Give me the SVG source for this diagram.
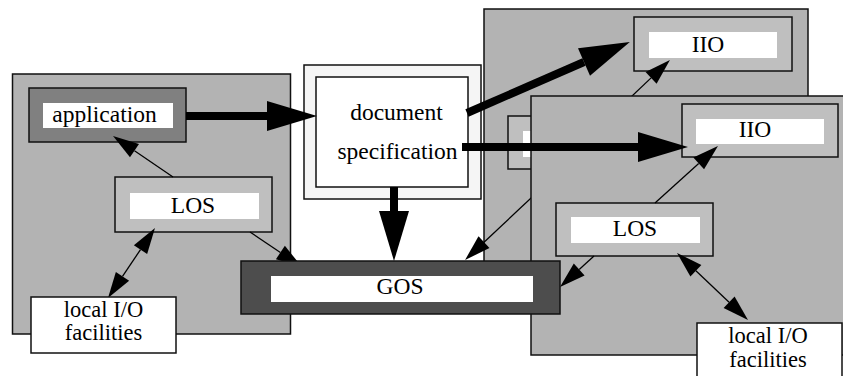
<svg xmlns="http://www.w3.org/2000/svg" width="843" height="376" viewBox="0 0 843 376">
<defs>
<style>
.panel{fill:#b3b3b3;stroke:#111;stroke-width:1.5}
.box{fill:#bfbfbf;stroke:#111;stroke-width:1.5}
.app{fill:#808080;stroke:#111;stroke-width:1.5}
.gos{fill:#4d4d4d;stroke:#111;stroke-width:1.5}
.plain{fill:#fff;stroke:#111;stroke-width:1.5}
.docout{fill:#f5f5f5;stroke:#111;stroke-width:1.5}
.lbl{fill:#fff;stroke:none}
.thin{stroke:#000;stroke-width:1.3;fill:none;marker-end:url(#ah)}
.both{stroke:#000;stroke-width:1.3;fill:none;marker-start:url(#ah);marker-end:url(#ah)}
.thick{stroke:#000;stroke-width:8;fill:none;marker-end:url(#big)}
</style>
<marker id="ah" markerUnits="userSpaceOnUse" markerWidth="26" markerHeight="16" refX="0" refY="8" orient="auto-start-reverse" overflow="visible">
<path d="M0,0 L26,8 L0,16 z" fill="#000"/>
</marker>
<marker id="big" markerUnits="userSpaceOnUse" markerWidth="50" markerHeight="30" refX="0" refY="15" orient="auto" overflow="visible">
<path d="M0,0 L50,15 L0,30 z" fill="#000"/>
</marker>
</defs>

<g font-family="Times New Roman, Liberation Serif, Tinos, Noto Serif, DejaVu Serif, serif" font-size="23.5" text-anchor="middle" fill="#000">
<g id="left-panel">
<rect class="panel" x="12.5" y="74" width="278" height="260"/>
</g>
<g id="application">
<rect class="app" x="29" y="88" width="157" height="54"/>
<rect class="lbl" x="43" y="103" width="130" height="25"/>
<text x="104.5" y="122">application</text>
</g>
<g id="los-left">
<rect class="box" x="115" y="177" width="157" height="55"/>
<rect class="lbl" x="130" y="193" width="129" height="26"/>
<text x="193" y="212.5">LOS</text>
</g>
<g id="connectors-left">
<line class="thin" x1="173" y1="177" x2="134.5" y2="150.7"/>
<line class="both" x1="140.5" y1="249.6" x2="122.5" y2="276.4"/>
<line class="thin" x1="250" y1="232" x2="280.4" y2="252.5"/>
</g>
<g id="local-io-left">
<rect class="plain" x="31" y="297" width="145" height="56"/>
<text x="103.5" y="316.5" font-size="22.5">local I/O</text>
<text x="103.5" y="340" font-size="22.5">facilities</text>
</g>

<g id="middle-panel">
<rect class="panel" x="484" y="9" width="324" height="291"/>
</g>
<g id="iio-middle">
<rect class="box" x="634" y="17" width="158" height="54"/>
<rect class="lbl" x="649" y="32" width="128" height="26"/>
<text x="708" y="51.5">IIO</text>
</g>
<g id="los-middle">
<rect class="box" x="508" y="116" width="157" height="53"/>
<rect class="lbl" x="523" y="131" width="127" height="26"/>
</g>
<g id="connectors-middle">
<line class="thin" x1="611" y1="116" x2="651.1" y2="77.9"/>
<line class="thin" x1="562" y1="169" x2="484" y2="242.2"/>
</g>

<g id="front-panel">
<rect class="panel" x="531" y="96" width="320" height="259"/>
</g>
<g id="iio-front">
<rect class="box" x="682" y="104" width="156" height="53"/>
<rect class="lbl" x="696" y="119" width="128" height="25"/>
<text x="755" y="136.5">IIO</text>
</g>
<g id="los-front">
<rect class="box" x="556" y="203" width="157" height="53"/>
<rect class="lbl" x="571" y="217" width="129" height="26"/>
<text x="635" y="235.5">LOS</text>
</g>
<g id="connectors-front">
<line class="thin" x1="655" y1="203" x2="698.7" y2="163.4"/>
<line class="thin" x1="594" y1="256" x2="579.2" y2="269.5"/>
<line class="both" x1="695.9" y1="270.8" x2="729.1" y2="302.2"/>
</g>
<g id="local-io-right">
<rect class="plain" x="697" y="323" width="145" height="60"/>
<text x="768" y="343.3" font-size="22.5">local I/O</text>
<text x="768" y="366.7" font-size="22.5">facilities</text>
</g>

<g id="document-specification">
<rect class="docout" x="304" y="65" width="177" height="134"/>
<rect class="plain" x="316" y="77" width="152" height="110"/>
<text x="396.5" y="120">document</text>
<text x="397.5" y="159">specification</text>
</g>

<g id="gos">
<rect class="gos" x="241" y="261" width="319" height="53"/>
<rect class="lbl" x="271" y="276" width="262" height="26"/>
<text x="400" y="294">GOS</text>
</g>

<g id="connectors-main">
<line class="thick" x1="186" y1="116" x2="267" y2="116"/>
<line class="thick" x1="394" y1="187" x2="394" y2="211"/>
<line class="thick" x1="467" y1="113" x2="584" y2="62"/>
<line class="thick" x1="462" y1="147" x2="638" y2="147"/>
</g>
</g>
</svg>
